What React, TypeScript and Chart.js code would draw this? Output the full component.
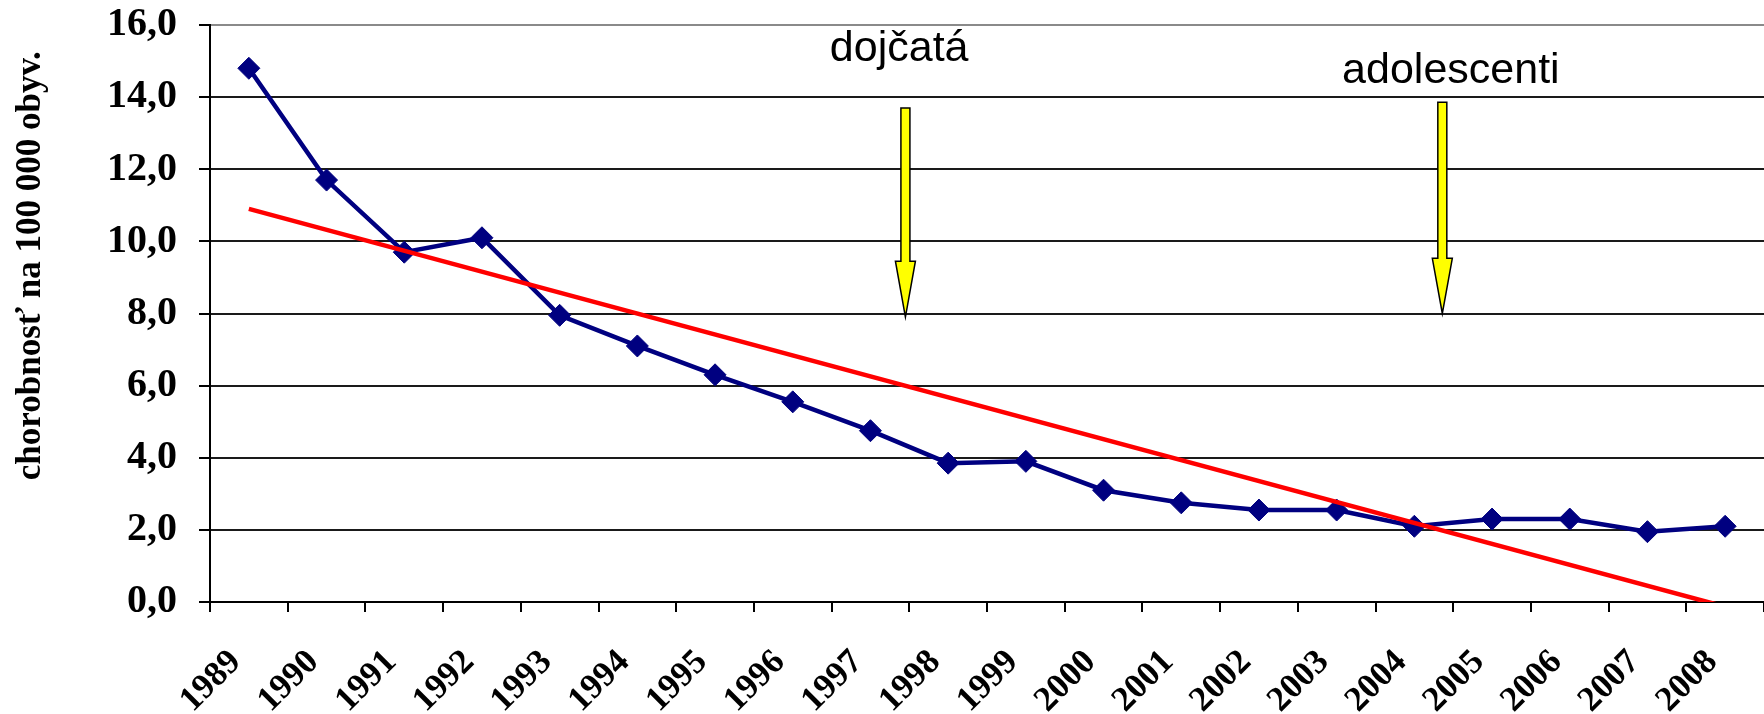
import React, { useEffect, useRef } from "react";
import { Chart, registerables } from "chart.js";

Chart.register(...registerables);

// ---- data ----
const years = [
  "1989", "1990", "1991", "1992", "1993", "1994", "1995", "1996", "1997", "1998",
  "1999", "2000", "2001", "2002", "2003", "2004", "2005", "2006", "2007", "2008",
];
const incidence = [
  14.8, 11.7, 9.7, 10.1, 7.95, 7.1, 6.3, 5.55, 4.75, 3.85,
  3.9, 3.1, 2.75, 2.55, 2.55, 2.1, 2.3, 2.3, 1.95, 2.1,
];
// trend line: value at the first and at the last year
const trendFirst = 10.9;
const trendLast = -0.13;

const yMin = 0;
const yMax = 16;
const yStep = 2;

const yTitle = "chorobnosť na 100 000 obyv.";

// annotations (x as category index, y in axis units)
const noteTexts = ["dojčatá", "adolescenti"];
const noteX = [8.37, 15.47];
const noteY = [15.0, 14.39];
const arrowX = [8.45, 15.36];
const arrowTop = [13.7, 13.86];
const arrowHeadStart = [9.45, 9.53];
const arrowTip = [7.9, 8.0];

const trendData = years.map((_, i) =>
  i === 0 ? trendFirst : i === years.length - 1 ? trendLast : null
);

const annotationPlugin = {
  id: "arrowNotes",
  afterDatasetsDraw(chart: any) {
    const { ctx, scales } = chart;
    const xs = scales.x;
    const ys = scales.y;
    ctx.save();
    for (let i = 0; i < arrowX.length; i++) {
      const cx = xs.getPixelForValue(arrowX[i]);
      const top = ys.getPixelForValue(arrowTop[i]);
      const hs = ys.getPixelForValue(arrowHeadStart[i]);
      const tip = ys.getPixelForValue(arrowTip[i]);
      const sw = 4.5;
      const hw = 10;
      ctx.beginPath();
      ctx.moveTo(cx - sw, top);
      ctx.lineTo(cx + sw, top);
      ctx.lineTo(cx + sw, hs);
      ctx.lineTo(cx + hw, hs);
      ctx.lineTo(cx, tip);
      ctx.lineTo(cx - hw, hs);
      ctx.lineTo(cx - sw, hs);
      ctx.closePath();
      ctx.fillStyle = "#FFFF00";
      ctx.fill();
      ctx.lineWidth = 1.5;
      ctx.strokeStyle = "#000000";
      ctx.stroke();
    }
    ctx.fillStyle = "#000000";
    ctx.font = '43px "Liberation Sans", Arial, sans-serif';
    ctx.textAlign = "center";
    ctx.textBaseline = "alphabetic";
    for (let i = 0; i < noteTexts.length; i++) {
      ctx.fillText(noteTexts[i], xs.getPixelForValue(noteX[i]), ys.getPixelForValue(noteY[i]));
    }
    ctx.restore();
  },
};

export default function App() {
  const canvasRef = useRef<HTMLCanvasElement | null>(null);

  useEffect(() => {
    const canvas = canvasRef.current;
    if (!canvas) return;
    const serif = '"Liberation Serif", "Times New Roman", serif';
    const chart = new Chart(canvas, {
      type: "line",
      data: {
        labels: years,
        datasets: [
          {
            label: "trend",
            data: trendData,
            borderColor: "#FF0000",
            backgroundColor: "#FF0000",
            borderWidth: 4.5,
            pointRadius: 0,
            pointHoverRadius: 0,
            spanGaps: true,
            tension: 0,
            clip: 0,
            order: 0,
          },
          {
            label: "chorobnosť",
            data: incidence,
            borderColor: "#000080",
            backgroundColor: "#000080",
            borderWidth: 4.5,
            pointStyle: "rectRot",
            pointRadius: 11,
            pointBackgroundColor: "#000080",
            pointBorderColor: "#000080",
            pointBorderWidth: 1,
            tension: 0,
            order: 1,
          },
        ],
      },
      options: {
        animation: false,
        responsive: false,
        devicePixelRatio: 1,
        layout: { padding: { top: 25, left: 0, right: 0, bottom: 0 } },
        plugins: {
          legend: { display: false },
          tooltip: { enabled: false },
        },
        scales: {
          x: {
            type: "category",
            offset: true,
            grid: {
              offset: true,
              drawOnChartArea: false,
              drawTicks: true,
              tickLength: 10,
              tickWidth: 2,
              tickColor: "#000000",
              lineWidth: 2,
              color: "#000000",
            },
            border: { display: true, color: "#000000", width: 2 },
            ticks: {
              autoSkip: false,
              minRotation: 45,
              maxRotation: 45,
              labelOffset: -13,
              padding: 30,
              color: "#000000",
              font: { family: serif, size: 35, weight: "bold" },
            },
            afterFit(scale: any) {
              scale.height = 112;
              scale.paddingLeft = 0;
              scale.paddingRight = 0;
            },
          },
          y: {
            min: yMin,
            max: yMax,
            grid: {
              drawTicks: true,
              tickLength: 11,
              lineWidth: 2,
              color: (c: any) => (c.tick && c.tick.value === yMax ? "#8a8a8a" : "#1a1a1a"),
              tickColor: "#000000",
            },
            border: { display: true, color: "#000000", width: 2 },
            ticks: {
              stepSize: yStep,
              padding: 22,
              color: "#000000",
              font: { family: serif, size: 40, weight: "bold" },
              callback: (v: any) => Number(v).toFixed(1).replace(".", ","),
            },
            title: {
              display: true,
              text: yTitle + "   ",
              align: "end",
              color: "#000000",
              padding: { top: 10, bottom: 0 },
              font: { family: serif, size: 35, weight: "bold" },
            },
            afterFit(scale: any) {
              scale.width = 210;
              scale.paddingTop = 0;
              scale.paddingBottom = 0;
            },
          },
        },
      },
      plugins: [annotationPlugin],
    } as any);
    return () => chart.destroy();
  }, []);

  return (
    <div
      style={{
        position: "fixed",
        left: 0,
        top: 0,
        width: 1764,
        height: 714,
        overflow: "hidden",
        background: "#ffffff",
      }}
    >
      <canvas ref={canvasRef} width={1776} height={714} style={{ display: "block" }} />
    </div>
  );
}
